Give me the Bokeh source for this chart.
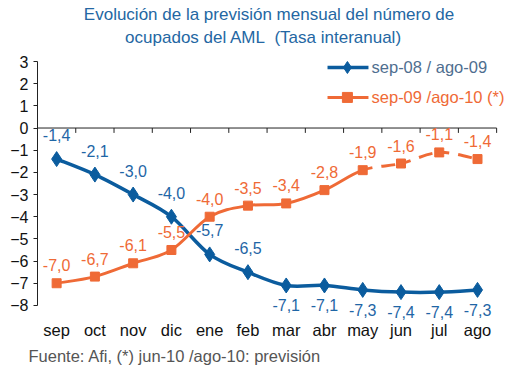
import numpy as np
from bokeh.plotting import figure
from bokeh.models import (Range1d, FixedTicker, Label, LabelSet, ColumnDataSource, Title)
from bokeh.core.properties import value
from bokeh.embed import file_html
from bokeh.resources import INLINE

months = ["sep", "oct", "nov", "dic", "ene", "feb", "mar", "abr", "may", "jun", "jul", "ago"]
serie_a = [-1.4, -2.1, -3.0, -4.0, -5.7, -6.5, -7.1, -7.1, -7.3, -7.4, -7.4, -7.3]
serie_b = [-7.0, -6.7, -6.1, -5.5, -4.0, -3.5, -3.4, -2.8, -1.9, -1.6, -1.1, -1.4]
name_a = "sep-08 / ago-09"
name_b = "sep-09 /ago-10 (*)"
title_1 = "Evolución de la previsión mensual del número de"
title_2 = "ocupados del AML\u00a0 (Tasa interanual)"
footer = "Fuente: Afi, (*) jun-10 /ago-10: previsión"
y_ticks = list(range(-8, 4))
n_forecast_start = 8  # index from which orange is dashed (may)

BLUE = "#0b5c9e"
BLUE_TXT = "#1f66a6"
ORANGE = "#ef6a36"
FONT = "Liberation Sans"

n = len(months)
p = figure(frame_width=471, frame_height=320, output_backend="svg", toolbar_location=None,
           x_range=Range1d(-0.5, n - 0.5 + 0.31), y_range=Range1d(-8.68, 5.751),
           min_border_left=37, min_border_right=2, min_border_top=0, min_border_bottom=45)
p.title.visible = False
p.outline_line_color = None
p.xgrid.visible = False
p.ygrid.visible = False
p.background_fill_color = "white"

# axes
p.yaxis.ticker = FixedTicker(ticks=y_ticks)
p.yaxis.bounds = (-8, 3)
p.yaxis.axis_line_color = "#222222"
p.yaxis.major_tick_line_color = "#222222"
p.yaxis.major_tick_out = 4
p.yaxis.major_tick_in = 0
p.yaxis.minor_tick_line_color = None
p.yaxis.major_label_standoff = 5
p.yaxis.major_label_text_font = FONT
p.yaxis.major_label_text_font_size = "16px"
p.yaxis.major_label_text_color = "#111111"

xs = list(range(n))
p.xaxis.ticker = FixedTicker(ticks=xs)
p.xaxis.major_label_overrides = {i: m for i, m in enumerate(months)}
p.xaxis.axis_line_color = None
p.xaxis.major_tick_line_color = None
p.xaxis.minor_tick_line_color = None
p.xaxis.major_tick_out = 0
p.xaxis.major_tick_in = 0
p.xaxis.major_label_standoff = 0
p.xaxis.major_label_text_font = FONT
p.xaxis.major_label_text_font_size = "16.5px"
p.xaxis.major_label_text_color = "#111111"

# zero line with category ticks
p.line([-0.5, n - 0.5], [0, 0], line_color="#222222", line_width=1)
bx = [i + 0.5 for i in xs]
p.segment(x0=bx, x1=bx, y0=[0] * len(bx), y1=[-0.22] * len(bx), line_color="#222222", line_width=1)


def smooth(x, y, k=1.0 / 6):
    x = np.asarray(x, float); y = np.asarray(y, float)
    m = len(x)
    x0, y0, x1, y1, cx0, cy0, cx1, cy1 = [], [], [], [], [], [], [], []
    for i in range(m - 1):
        im = max(i - 1, 0); ip = min(i + 2, m - 1)
        x0.append(x[i]); y0.append(y[i]); x1.append(x[i + 1]); y1.append(y[i + 1])
        cx0.append(x[i] + (x[i + 1] - x[im]) * k); cy0.append(y[i] + (y[i + 1] - y[im]) * k)
        cx1.append(x[i + 1] - (x[ip] - x[i]) * k); cy1.append(y[i + 1] - (y[ip] - y[i]) * k)
    return dict(x0=x0, y0=y0, x1=x1, y1=y1, cx0=cx0, cy0=cy0, cx1=cx1, cy1=cy1)

sa = smooth(xs, serie_a)
p.bezier(source=ColumnDataSource(sa), x0="x0", y0="y0", x1="x1", y1="y1",
         cx0="cx0", cy0="cy0", cx1="cx1", cy1="cy1", line_color=BLUE, line_width=3.5)

sb = smooth(xs, serie_b)
solid = {k: v[:n_forecast_start] for k, v in sb.items()}
dashed = {k: v[n_forecast_start:] for k, v in sb.items()}
p.bezier(source=ColumnDataSource(solid), x0="x0", y0="y0", x1="x1", y1="y1",
         cx0="cx0", cy0="cy0", cx1="cx1", cy1="cy1", line_color=ORANGE, line_width=3)
p.bezier(source=ColumnDataSource(dashed), x0="x0", y0="y0", x1="x1", y1="y1",
         cx0="cx0", cy0="cy0", cx1="cx1", cy1="cy1", line_color=ORANGE, line_width=3,
         line_dash="14 9", line_dash_offset=4)

p.scatter(xs, serie_a, marker="diamond", size=15, fill_color=BLUE, line_color=BLUE)
p.scatter(xs, serie_b, marker="square", size=9, fill_color=ORANGE, line_color=ORANGE)

def fmt(v):
    return ("%.1f" % v).replace(".", ",")

# data labels
src_a_up = ColumnDataSource(dict(x=xs[:6], y=serie_a[:6], t=[fmt(v) for v in serie_a[:6]]))
src_a_dn = ColumnDataSource(dict(x=xs[6:], y=serie_a[6:], t=[fmt(v) for v in serie_a[6:]]))
src_b = ColumnDataSource(dict(x=xs, y=serie_b, t=[fmt(v) for v in serie_b]))
common = dict(text_font=value(FONT), text_font_size=value("16px"), text_align="center",
              text_baseline="middle")
p.add_layout(LabelSet(source=src_a_up, x="x", y="y", text="t", y_offset=24, text_color=BLUE_TXT, **common))
p.add_layout(LabelSet(source=src_a_dn, x="x", y="y", text="t", y_offset=-20, text_color=BLUE_TXT, **common))
p.add_layout(LabelSet(source=src_b, x="x", y="y", text="t", y_offset=18, text_color=ORANGE, **common))

# legend (manual)
p.line([7.08, 8.15], [2.73, 2.73], line_color=BLUE, line_width=3.5)
p.scatter([7.6], [2.73], marker="diamond", size=12, fill_color=BLUE, line_color=BLUE)
p.line([7.08, 8.15], [1.38, 1.38], line_color=ORANGE, line_width=3)
p.scatter([7.6], [1.38], marker="square", size=10, fill_color=ORANGE, line_color=ORANGE)
p.add_layout(Label(x=8.23, y=2.73, text=name_a, text_color="#4f6e8f", text_font=FONT,
                   text_font_size="16.5px", text_baseline="middle"))
p.add_layout(Label(x=8.23, y=1.38, text=name_b, text_color=ORANGE, text_font=FONT,
                   text_font_size="16.5px", text_baseline="middle"))

# title (inside the top of the frame) and footer
p.add_layout(Label(x=5.552, y=5.12, text=title_1, text_color="#2467a3", text_font=FONT,
                   text_font_size="17px", text_align="center", text_baseline="middle"))
p.add_layout(Label(x=5.408, y=4.082, text=title_2, text_color="#2467a3", text_font=FONT,
                   text_font_size="17px", text_align="center", text_baseline="middle"))
p.add_layout(Title(text=footer, align="left", offset=-9, standoff=7, text_color="#555555",
                   text_font=FONT, text_font_size="16.5px", text_font_style="normal"), "below")

open("out.html", "w").write(file_html(p, INLINE))
